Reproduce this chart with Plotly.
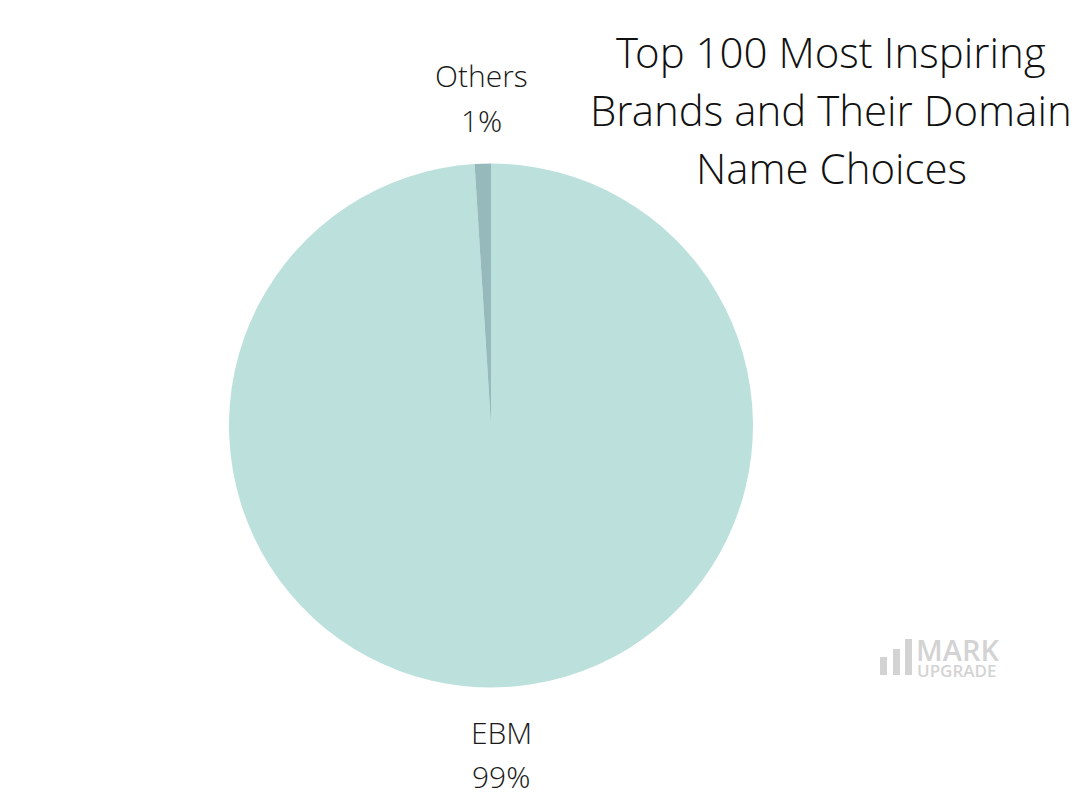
import plotly.graph_objects as go

labels = ["EBM", "Others"]
values = [99, 1]
colors = ["#BCE1DC", "#96B9BB"]

title_lines = ["Top 100 Most Inspiring", "Brands and Their Domain", "Name Choices"]

W, H = 1080, 800
FONT = "Open Sans Light, Open Sans"

fig = go.Figure()
fig.add_trace(go.Pie(
    labels=labels, values=values, sort=False, direction="clockwise", rotation=0,
    marker=dict(colors=colors, line=dict(width=0)),
    textinfo="none", textposition="none",
    domain=dict(x=[229 / W, 753 / W], y=[1 - 688 / H, 1 - 163 / H]),
    showlegend=False, hoverinfo="label+percent",
))

# slice labels (text from data)
total = sum(values)
label_pos = {"Others": (481, 76, 120), "EBM": (501, 732, 776)}
for lab, val in zip(labels, values):
    x, y1, y2 = label_pos[lab]
    pct = f"{round(100 * val / total)}%"
    for txt, yy in [(lab, y1), (pct, y2)]:
        fig.add_annotation(text=txt, x=x / W, y=1 - yy / H, xref="paper", yref="paper",
                           xanchor="center", yanchor="middle", showarrow=False,
                           font=dict(family=FONT, size=30, color="#1a1a1a", weight=300))

for line, yy in zip(title_lines, [52, 110, 168]):
    fig.add_annotation(
        text=line, x=831 / W, y=1 - yy / H, xref="paper", yref="paper",
        xanchor="center", yanchor="middle", showarrow=False,
        font=dict(family=FONT, size=42, color="#111111", weight=300),
    )

# watermark logo
grey = "#D3D3D3"
for x0, y0 in [(880, 657), (893, 649), (905, 639)]:
    fig.add_shape(type="rect", xref="paper", yref="paper",
                  x0=x0 / W, x1=(x0 + 7) / W, y0=1 - 675 / H, y1=1 - y0 / H,
                  fillcolor=grey, line=dict(width=0))
fig.add_annotation(text="MARK", x=914 / W, y=1 - 649 / H, xref="paper", yref="paper",
                   xanchor="left", yanchor="middle", showarrow=False,
                   font=dict(family="Open Sans", size=29, color=grey, weight=600))
fig.add_annotation(text="UPGRADE", x=915 / W, y=1 - 670 / H, xref="paper", yref="paper",
                   xanchor="left", yanchor="middle", showarrow=False,
                   font=dict(family="Open Sans", size=17, color=grey, weight=600))

fig.update_layout(width=W, height=H, margin=dict(l=0, r=0, t=0, b=0),
                  paper_bgcolor="white", plot_bgcolor="white")
fig.write_html("out.html", config={"displayModeBar": False},
               post_script="document.body.style.margin='0';")
